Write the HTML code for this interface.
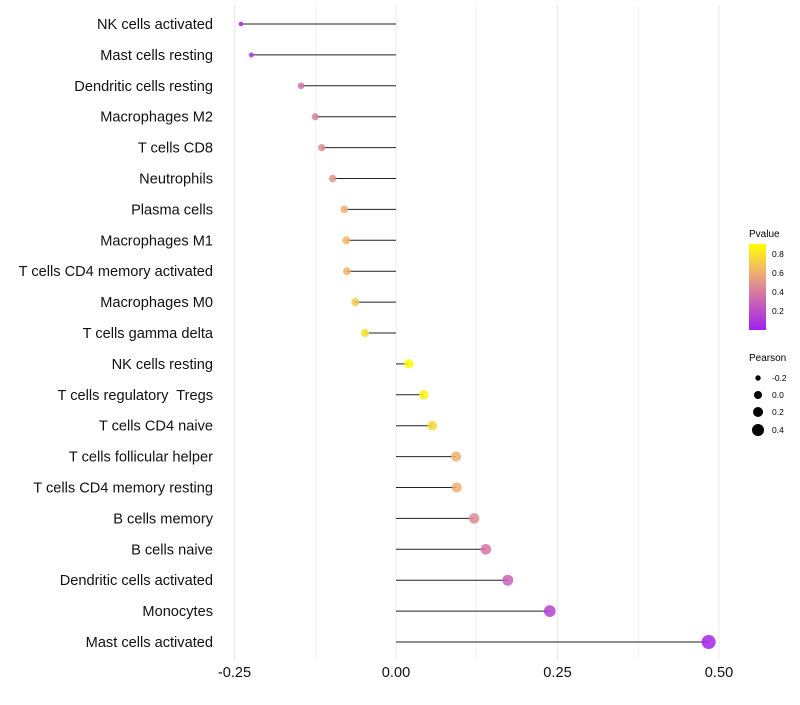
<!DOCTYPE html>
<html><head><meta charset="utf-8"><style>
body{margin:0;background:#fff;font-family:"Liberation Sans",sans-serif}
svg text{font-family:"Liberation Sans",sans-serif;white-space:pre}
</style></head><body>
<svg width="800" height="700">
<g id="grid"></g><g id="stems"></g><g id="pts"></g><g id="ylab"></g><g id="xlab"></g>
<g id="legend"></g>
</svg>
<script>
const categories=["NK cells activated","Mast cells resting","Dendritic cells resting","Macrophages M2","T cells CD8","Neutrophils","Plasma cells","Macrophages M1","T cells CD4 memory activated","Macrophages M0","T cells gamma delta","NK cells resting","T cells regulatory  Tregs","T cells CD4 naive","T cells follicular helper","T cells CD4 memory resting","B cells memory","B cells naive","Dendritic cells activated","Monocytes","Mast cells activated"];
const pearson=[-0.24,-0.224,-0.147,-0.125,-0.115,-0.098,-0.080,-0.077,-0.076,-0.063,-0.048,0.020,0.043,0.056,0.093,0.094,0.121,0.139,0.173,0.238,0.484];
const pvalues=[0.05,0.1,0.35,0.4,0.45,0.5,0.6,0.62,0.62,0.7,0.78,0.9,0.85,0.75,0.6,0.6,0.45,0.38,0.3,0.15,0.02];
const xTicks=[-0.25,0,0.25,0.5];
const xTickLabels=["-0.25","0.00","0.25","0.50"];
const NS="http://www.w3.org/2000/svg";
const xs=v=>396+v*646;
const ys=i=>24+i*30.9;
const rs=v=>Math.sqrt(Math.max(3,20+60*v));
const stops=[[0,[160,32,240]],[0.4,[216,124,160]],[0.6,[238,176,112]],[0.9,[255,255,0]]];
function col(p){for(let k=0;k<stops.length-1;k++){const[a,ca]=stops[k],[b,cb]=stops[k+1];if(p<=b||k==stops.length-2){let t=Math.min(1,Math.max(0,(p-a)/(b-a)));return `rgb(${ca.map((c,j)=>Math.round(c+(cb[j]-c)*t)).join(",")})`;}}}
function mk(tag,at,parent){const e=document.createElementNS(NS,tag);for(const k in at)e.setAttribute(k,at[k]);document.getElementById(parent).appendChild(e);return e;}
[-0.25,-0.125,0,0.125,0.25,0.375,0.5].forEach(v=>{const l=mk("line",{x1:xs(v),x2:xs(v),y1:5,y2:660,stroke:"#ebebeb","stroke-width":v*4%1==0?1:0.6},"grid");

});
categories.forEach((c,i)=>{
 const s=mk("line",{x1:xs(0),x2:xs(pearson[i]),y1:ys(i),y2:ys(i),stroke:"#222","stroke-width":1},"stems");
 
 
 const p=mk("circle",{cx:xs(pearson[i]),cy:ys(i),r:rs(pearson[i]),fill:col(pvalues[i]),"fill-opacity":0.85},"pts");
 
 
 const t=mk("text",{x:213,y:ys(i)+5,"text-anchor":"end","font-size":14.6,fill:"#111"},"ylab");t.textContent=c;
 
 
});
xTicks.forEach((v,i)=>{const t=mk("text",{x:xs(v),y:677,"text-anchor":"middle","font-size":14.6,fill:"#111"},"xlab");t.textContent=xTickLabels[i];

});
const L=document.getElementById("legend");
L.innerHTML=`<defs><linearGradient id="g" x1="0" y1="1" x2="0" y2="0"><stop offset="0" stop-color="rgb(160,32,240)"/><stop offset="0.444" stop-color="rgb(216,124,160)"/><stop offset="0.667" stop-color="rgb(238,176,112)"/><stop offset="1" stop-color="rgb(255,255,0)"/></linearGradient></defs>
<text x="749" y="237" font-size="10">Pvalue</text>
<rect x="749" y="244" width="17" height="86" fill="url(#g)"/>
<text x="772" y="257" font-size="8.5">0.8</text><text x="772" y="276" font-size="8.5">0.6</text><text x="772" y="295" font-size="8.5">0.4</text><text x="772" y="314" font-size="8.5">0.2</text>
<text x="749" y="361" font-size="10">Pearson</text>
<circle cx="758" cy="378" r="2.7"/><circle cx="758" cy="395" r="4"/><circle cx="758" cy="412" r="5"/><circle cx="758" cy="430" r="6"/>
<text x="772" y="381" font-size="8.5">-0.2</text><text x="772" y="398" font-size="8.5">0.0</text><text x="772" y="415" font-size="8.5">0.2</text><text x="772" y="433" font-size="8.5">0.4</text>`;
</script>
</body></html>
